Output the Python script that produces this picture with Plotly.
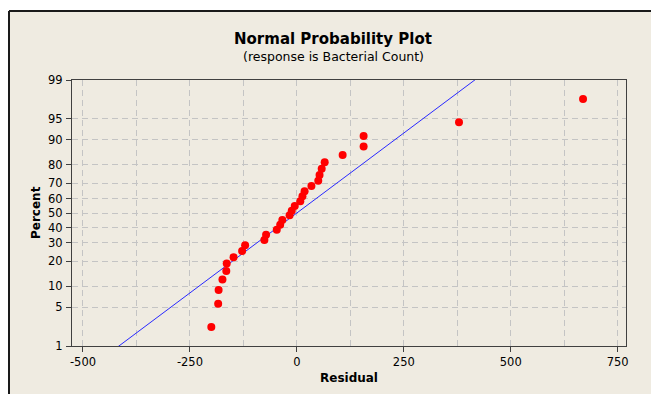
import statistics
import plotly.graph_objects as go

# ---------------- data ----------------
residuals = [-200, -184, -183, -174, -165, -164, -148, -128, -121, -76,
             -72, -47, -39, -34, -17, -12, -5, 8, 13, 18,
             34, 50, 53, 58, 65, 107, 156, 156, 379, 669]
percent = [2.3, 5.6, 8.9, 12.2, 15.5, 18.8, 22.0, 25.3, 28.6, 31.9,
           35.2, 38.5, 41.8, 45.1, 48.4, 51.6, 54.9, 58.2, 61.5, 64.8,
           68.1, 71.4, 74.7, 78.0, 81.3, 84.5, 87.8, 91.1, 94.4, 97.7]
y_tick_pct = [1, 5, 10, 20, 30, 40, 50, 60, 70, 80, 90, 95, 99]
x_ticks = [-500, -250, 0, 250, 500, 750]

title_text = "Normal Probability Plot"
subtitle_text = "(response is Bacterial Count)"
x_title = "Residual"
y_title = "Percent"

# ---------------- derived ----------------
nd = statistics.NormalDist()
z_pts = [nd.inv_cdf(p / 100) for p in percent]
z_ticks = [nd.inv_cdf(p / 100) for p in y_tick_pct]
mu = statistics.mean(residuals)
sd = statistics.stdev(residuals)
z_lo, z_hi = nd.inv_cdf(0.01), nd.inv_cdf(0.99)
line_z = [z_lo - 0.3, z_hi + 0.3]
line_x = [mu + sd * z for z in line_z]

# ---------------- layout geometry (pixels) ----------------
W, H = 651, 394
L, R, T, B = 72, 626, 80, 346


def px(x):
    return (x - L) / (R - L)


def py(y):
    return (B - y) / (B - T)


BEIGE = "#EFEBE1"
FONT = "DejaVu Sans"

fig = go.Figure()
fig.add_trace(go.Scatter(x=line_x, y=line_z, mode="lines",
                         line=dict(color="#2828FF", width=1),
                         hoverinfo="skip", showlegend=False))
fig.add_trace(go.Scatter(x=residuals, y=z_pts, mode="markers",
                         marker=dict(color="#FF0000", size=8, line=dict(width=0)),
                         showlegend=False, cliponaxis=False))

grid_col = "#C4C4C4"
fig.update_xaxes(range=[-525.7, 769.4], tickvals=x_ticks,
                 ticktext=[str(v) for v in x_ticks],
                 showgrid=True, gridcolor=grid_col, griddash="6px,4px", gridwidth=1,
                 minor=dict(dtick=125, tick0=-500, showgrid=True, gridcolor=grid_col,
                            griddash="6px,4px", ticks=""),
                 ticks="outside", ticklen=5, tickcolor="#404040",
                 showline=True, mirror=True, linecolor="#404040", linewidth=1,
                 zeroline=False, tickfont=dict(family=FONT, size=11.5, color="#000"))
fig.update_yaxes(range=[z_lo, z_hi], tickvals=z_ticks,
                 ticktext=[str(v) for v in y_tick_pct],
                 showgrid=True, gridcolor=grid_col, griddash="6px,4px", gridwidth=1,
                 ticks="outside", ticklen=5, tickcolor="#404040",
                 showline=True, mirror=True, linecolor="#404040", linewidth=1,
                 zeroline=False, ticklabelstandoff=1,
                 tickfont=dict(family=FONT, size=11.5, color="#000"))

shapes = [
    dict(type="rect", xref="paper", yref="paper", layer="below",
         x0=px(9), x1=px(660), y0=py(400), y1=py(11),
         fillcolor=BEIGE, line=dict(width=0)),
    dict(type="line", xref="paper", yref="paper", layer="below",
         x0=px(9), x1=px(660), y0=py(11), y1=py(11),
         line=dict(color="#1A1A1A", width=2)),
    dict(type="line", xref="paper", yref="paper", layer="below",
         x0=px(9), x1=px(9), y0=py(11), y1=py(400),
         line=dict(color="#1A1A1A", width=2)),
]

annotations = [
    dict(text="<b>" + title_text + "</b>", xref="paper", yref="paper",
         x=px(333), y=py(39), xanchor="center", yanchor="middle", showarrow=False,
         font=dict(family=FONT, size=15, color="#000")),
    dict(text=subtitle_text, xref="paper", yref="paper",
         x=px(333), y=py(57), xanchor="center", yanchor="middle", showarrow=False,
         font=dict(family=FONT, size=12.5, color="#000")),
    dict(text="<b>" + x_title + "</b>", xref="paper", yref="paper",
         x=px(349), y=py(378), xanchor="center", yanchor="middle", showarrow=False,
         font=dict(family=FONT, size=12, color="#000")),
    dict(text="<b>" + y_title + "</b>", xref="paper", yref="paper",
         x=px(36), y=py(213), xanchor="center", yanchor="middle", showarrow=False,
         textangle=-90, font=dict(family=FONT, size=12, color="#000")),
]

fig.update_layout(width=W, height=H, autosize=False,
                  margin=dict(l=L, r=W - R, t=T, b=H - B, pad=0),
                  paper_bgcolor="white", plot_bgcolor="white",
                  shapes=shapes, annotations=annotations,
                  showlegend=False)

fig.write_html("out.html",
               config={"displayModeBar": False},
               post_script="document.body.style.margin='0';"
                           "document.body.style.overflow='hidden';")
